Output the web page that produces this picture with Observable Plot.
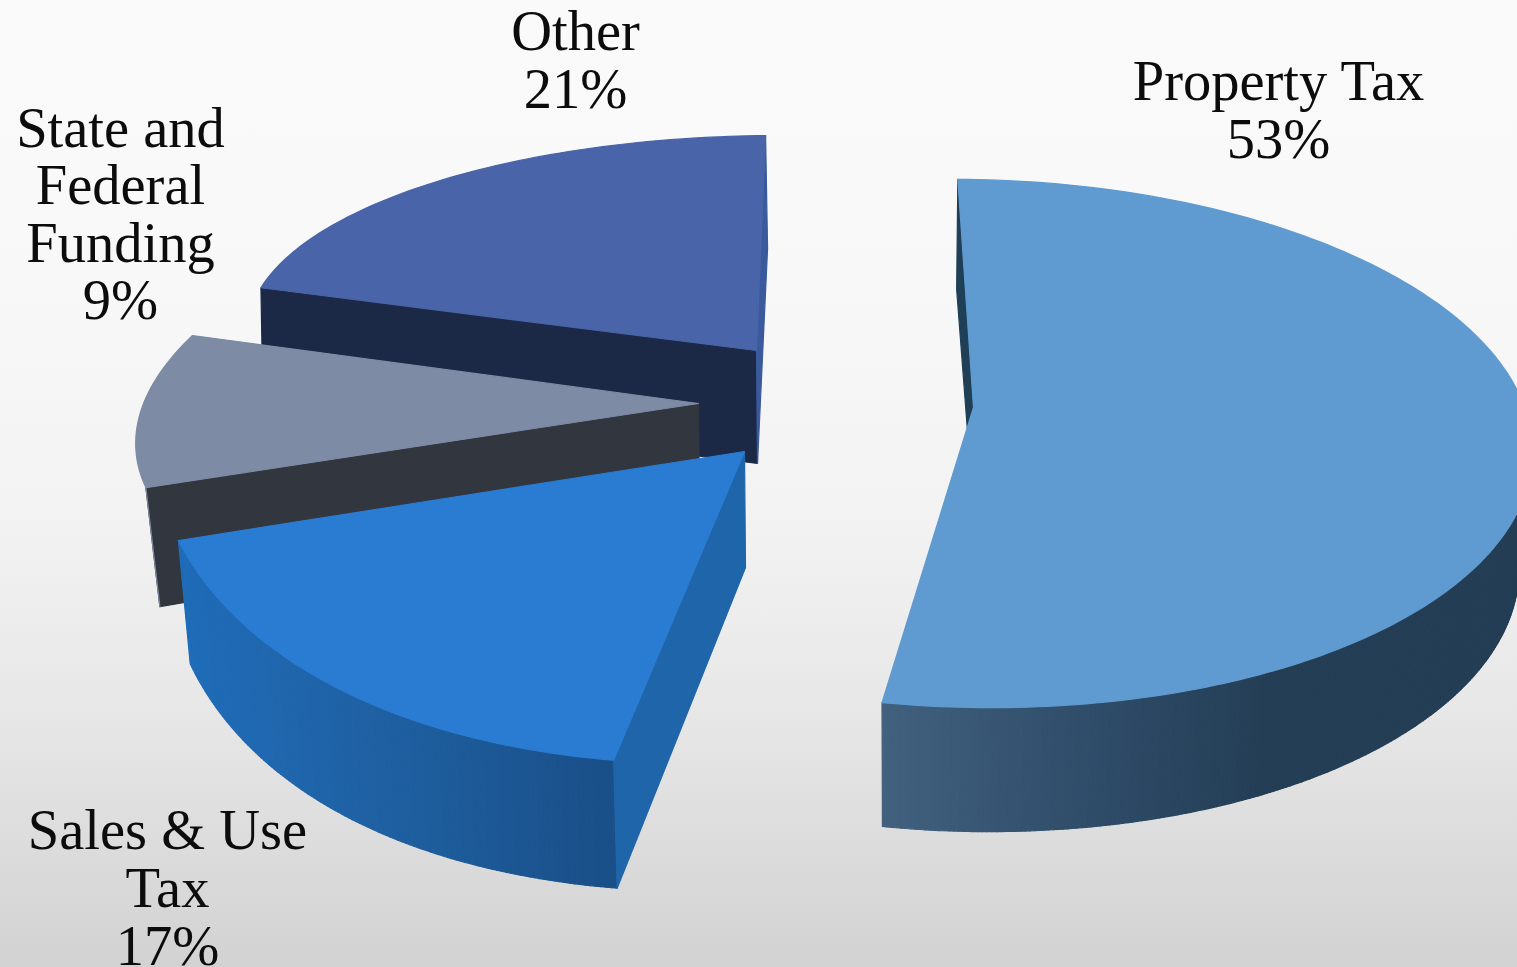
<!DOCTYPE html>
<html>
<head>
<meta charset="utf-8">
<title>Revenue sources</title>
<script src="https://cdn.jsdelivr.net/npm/d3@7"></script>
<script src="https://cdn.jsdelivr.net/npm/@observablehq/plot@0.6"></script>
<style>
  html, body { margin: 0; padding: 0; width: 1517px; height: 967px; overflow: hidden; }
  body { background: linear-gradient(to bottom, #fafafa 0%, #f8f8f8 30%, #f2f2f2 55%, #e6e6e6 75%, #d2d2d2 100%); }
  svg { display: block; background: transparent !important; }
</style>
</head>
<body>
<script>
// Revenue shares, clockwise from twelve o'clock
const categories = ["Property Tax", "Sales & Use Tax", "State and Federal Funding", "Other"];
const shares = [53, 17, 9, 21];
const labelLines = ["Property Tax", "Sales & Use\nTax", "State and\nFederal\nFunding", "Other"];

// Face colours per slice
const topColors = ["#5f9bd1", "#2a7cd3", "#7d8ba5", "#4964a8"];
const cutColors = ["#1f3f56", "#1f65aa", "#31363f", "#1b2846"];
const rimStops = [
  [[189.3, "#41617f"], [165, "#2d4a66"], [148, "#243e55"], [90, "#243e55"]],
  [[189.3, "#1a4f88"], [210, "#1e5e9e"], [232, "#2068b0"], [250.5, "#1f6cb9"]]
];

// Where the slices sit once pulled apart: tip of each wedge, top and bottom
const tips = [[973, 407], [744, 451], [698, 403], [756, 350]];
const tipDepth = [115, 116, 110, 113];

// Rim ellipses of the top and bottom faces of each slice
const topRims = [
  {cx: 972, cy: 442, a: 560, back: 263, front: 265, kx: 0, ky: 9, bulge: 1},
  {cx: 725, cy: 407, a: 577, back: 357, front: 357, kx: 0, ky: 0, bulge: 0.9},
  {cx: 863, cy: 396, a: 717, back: 273, front: 273, kx: 125, ky: 0, bulge: 1},
  {cx: 779, cy: 331, a: 532, back: 196, front: 196, kx: 0, ky: 0, bulge: 1}
];
const baseRims = [
  {cx: 970.5, cy: 559, a: 548, back: 270, front: 272, kx: 0, ky: 9, bulge: 1},
  {cx: 734, cy: 520, a: 573, back: 372, front: 372, kx: 0, ky: 0, bulge: 0.87},
  {cx: 877, cy: 515, a: 717, back: 273, front: 273, kx: 125, ky: 0, bulge: 1},
  {cx: 781, cy: 444, a: 532, back: 196, front: 196, kx: 0, ky: 0, bulge: 1}
];

// Label anchors, middle of the text block
const labelX = [1278, 167, 120, 575];
const labelY = [110, 888, 214, 60];

const firstAngle = -1.5;
const total = d3.sum(shares);
const edges = shares.reduce((acc, v) => [...acc, acc[acc.length - 1] + v / total * 360], [firstAngle]);

function rimPoint(rim, deg) {
  const t = deg * Math.PI / 180, s = Math.sin(t), c = Math.cos(t);
  const rounded = v => c < 0 ? Math.sign(v) * Math.pow(Math.abs(v), rim.bulge) : v;
  return [rim.cx + rim.a * rounded(s) + rim.kx * c,
          rim.cy - (c >= 0 ? rim.back : rim.front) * rounded(c) + rim.ky * s];
}
const sweep = (from, to, step = 1) => {
  const n = Math.max(1, Math.round(Math.abs(to - from) / step));
  return d3.range(n + 1).map(i => from + (to - from) * i / n);
};

const rows = [];
let id = 0;
const addFace = (points, fill) => {
  id += 1;
  [...points, points[0]].forEach(([x, y]) => rows.push({id, x, y, fill}));
};

// Back-to-front: Other, State and Federal, Sales & Use, Property Tax
[3, 2, 1, 0].forEach(i => {
  const a0 = edges[i], a1 = edges[i + 1];
  const tip = tips[i], tipBase = [tip[0] + 1, tip[1] + tipDepth[i]];
  const top = topRims[i], base = baseRims[i];

  // Rounded outer wall of the two front slices, in strips so its shade can change along the arc
  if (rimStops[i]) {
    const stops = rimStops[i];
    const shade = d3.scaleLinear().domain(stops.map(d => d[0])).range(stops.map(d => d[1]))
      .interpolate(d3.interpolateRgb).clamp(true);
    const ticks = sweep(Math.max(a0, 90), a1, 0.5);
    ticks.slice(1).forEach((d, k) => {
      const p = ticks[k];
      addFace([rimPoint(top, p), rimPoint(top, d), rimPoint(base, d), rimPoint(base, p)],
        d3.color(shade((p + d) / 2)).formatHex());
    });
  }

  // Flat cut face running in to the tip
  addFace([rimPoint(top, a0), rimPoint(base, a0), tipBase, tip], cutColors[i]);
  if (i === 2) addFace([rimPoint(top, a0), rimPoint(base, a0)], "#7a879e");
  if (i === 3) addFace([rimPoint(top, a1), rimPoint(base, a1), tipBase, tip], "#3a5a9c");

  // Top face
  addFace([tip, ...sweep(a0, a1).map(d => rimPoint(top, d))], topColors[i]);
});

const labels = categories.map((name, i) => ({
  name, share: shares[i], text: `${labelLines[i]}\n${shares[i]}%`, x: labelX[i], y: labelY[i]
}));

const chart = Plot.plot({
  width: 1517,
  height: 967,
  margin: 0,
  x: {domain: [0, 1517], axis: null},
  y: {domain: [967, 0], axis: null},
  color: {type: "identity"},
  style: {background: "transparent"},
  marks: [
    Plot.line(rows, {x: "x", y: "y", z: "id", fill: "fill", stroke: "fill", strokeWidth: 1.2, strokeLinejoin: "round", clip: true}),
    Plot.text(labels, {
      x: "x", y: "y", text: "text",
      fontFamily: "Liberation Serif", fontSize: 56.5, lineHeight: 1.02,
      fill: "#0c0c0c", textAnchor: "middle", lineAnchor: "middle"
    })
  ]
});
document.body.appendChild(chart);
</script>
</body>
</html>
